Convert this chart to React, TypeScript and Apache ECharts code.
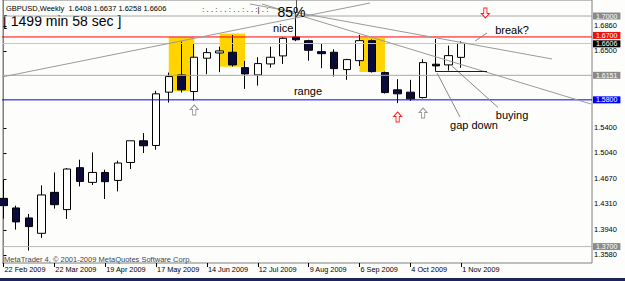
import React, { useEffect, useRef } from 'react';
import * as echarts from 'echarts';

const symbolName = 'GBPUSD';
const periodName = 'Weekly';

const weeks = [
  '22 Feb 2009', '1 Mar 2009', '8 Mar 2009', '15 Mar 2009', '22 Mar 2009', '29 Mar 2009',
  '5 Apr 2009', '12 Apr 2009', '19 Apr 2009', '26 Apr 2009', '3 May 2009', '10 May 2009',
  '17 May 2009', '24 May 2009', '31 May 2009', '7 Jun 2009', '14 Jun 2009', '21 Jun 2009',
  '28 Jun 2009', '5 Jul 2009', '12 Jul 2009', '19 Jul 2009', '26 Jul 2009', '2 Aug 2009',
  '9 Aug 2009', '16 Aug 2009', '23 Aug 2009', '30 Aug 2009', '6 Sep 2009', '13 Sep 2009',
  '20 Sep 2009', '27 Sep 2009', '4 Oct 2009', '11 Oct 2009', '18 Oct 2009', '25 Oct 2009',
  '1 Nov 2009',
];

const opens = [
  1.4390, 1.4253, 1.4110, 1.3890, 1.4476, 1.4229, 1.4829, 1.4619, 1.4761, 1.4647,
  1.4904, 1.5214, 1.5147, 1.5910, 1.6157, 1.5919, 1.6396, 1.6471, 1.6481, 1.6261,
  1.6157, 1.6314, 1.6429, 1.6698, 1.6647, 1.6490, 1.6481, 1.6233, 1.6361, 1.6647,
  1.6190, 1.5943, 1.5910, 1.5833, 1.6310, 1.6300, 1.6408,
];
const highs = [
  1.4657, 1.4286, 1.4167, 1.4576, 1.4761, 1.4824, 1.4943, 1.5047, 1.4800, 1.4929,
  1.5214, 1.5324, 1.5929, 1.6190, 1.6633, 1.6610, 1.6539, 1.6561, 1.6729, 1.6357,
  1.6410, 1.6561, 1.6695, 1.7043, 1.6660, 1.6610, 1.6524, 1.6386, 1.6729, 1.6667,
  1.6204, 1.6096, 1.6086, 1.6381, 1.6671, 1.6576, 1.6637,
];
const lows = [
  1.4100, 1.3943, 1.3643, 1.3824, 1.4243, 1.4096, 1.4561, 1.4581, 1.4381, 1.4490,
  1.4810, 1.5039, 1.5086, 1.5761, 1.5904, 1.5790, 1.6167, 1.6196, 1.6276, 1.5957,
  1.6004, 1.6261, 1.6314, 1.6640, 1.6361, 1.6253, 1.6133, 1.6086, 1.6286, 1.6190,
  1.5890, 1.5753, 1.5786, 1.5820, 1.6204, 1.6219, 1.6258,
];
const closes = [
  1.4286, 1.4053, 1.3986, 1.4439, 1.4300, 1.4810, 1.4633, 1.4761, 1.4629, 1.4896,
  1.5214, 1.5143, 1.5886, 1.6133, 1.5943, 1.6410, 1.6476, 1.6500, 1.6300, 1.6171,
  1.6319, 1.6410, 1.6681, 1.6660, 1.6510, 1.6461, 1.6247, 1.6376, 1.6647, 1.6204,
  1.5904, 1.5886, 1.5814, 1.6333, 1.6286, 1.6433, 1.6606,
];

const xTickIdx = [0, 4, 8, 12, 16, 20, 24, 28, 32, 36];
const yTickValues = [1.358, 1.394, 1.431, 1.467, 1.504, 1.54, 1.65, 1.686];

const levelPrices = [1.7, 1.6606, 1.67, 1.6151, 1.58, 1.37];
const levelLineColors = ['#a8a8a8', '#c8c8c8', '#ff0000', '#a8a8a8', '#0000ff', '#b8b8b8'];
const levelBoxColors = ['#8a8a8a', '#000000', '#ee1111', '#8a8a8a', '#0000ff', '#8a8a8a'];

// yellow zones: [fromWeek, toWeek, topPrice, bottomPrice]
const zones = [
  [13, 15, 1.6699, 1.5927],
  [17, 19, 1.6749, 1.6274],
  [28, 30, 1.6685, 1.6199],
];

const X_MIN = -0.118;
const X_MAX = 46.287;
const Y_MIN = 1.3465;
const Y_MAX = 1.7229;
const FONT = '"Liberation Sans", Arial, sans-serif';

export default function App() {
  const ref = useRef<HTMLDivElement>(null);
  useEffect(() => {
    document.body.style.margin = '0';
    if (!ref.current) return;
    const chart = echarts.init(ref.current, undefined, { renderer: 'svg' });
    const last = closes.length - 1;
    const header = `${symbolName},${periodName}  ${opens[last].toFixed(4)} ${highs[last].toFixed(4)} ${lows[last].toFixed(4)} ${closes[last].toFixed(4)}`;

    const candleData = weeks.map((_, i) => [i, opens[i], closes[i], lows[i], highs[i]]);

    const seg = (a: number[], b: number[], color: string, width = 1) => [
      { coord: a, lineStyle: { color, width, type: 'solid' }, label: { show: false } },
      { coord: b },
    ];

    const textMark = (text: string, x: number, y: number, size: number) => ({
      coord: [x, y],
      symbol: 'rect',
      symbolSize: 1,
      itemStyle: { color: 'rgba(0,0,0,0)' },
      label: { show: true, position: 'inside', formatter: text, color: '#000', fontSize: size, fontFamily: FONT },
    });
    const upArrow = 'path://M5,0 L10,5 L7,5 L7,11 L3,11 L3,5 L0,5 Z';
    const downArrow = 'path://M3,0 L7,0 L7,6 L10,6 L5,11 L0,6 L3,6 Z';
    const arrowMark = (path: string, x: number, y: number, stroke: string) => ({
      coord: [x, y],
      symbol: path,
      symbolSize: [8, 10],
      itemStyle: { color: '#ffffff', borderColor: stroke, borderWidth: 1 },
      label: { show: false },
    });

    const levelSeries = levelPrices.map((p, i) => ({
      type: 'line',
      z: 4,
      silent: true,
      showSymbol: false,
      symbol: 'none',
      clip: false,
      data: [[X_MIN, p], [X_MAX, p]],
      lineStyle: { color: levelLineColors[i], width: 1 },
      endLabel: {
        show: true,
        formatter: p.toFixed(4),
        backgroundColor: levelBoxColors[i],
        color: '#fff',
        fontSize: 7,
        lineHeight: 7,
        padding: [0, 3, 0, 3],
        distance: 1,
        fontFamily: FONT,
        offset: [0, i === 2 ? -1.5 : i === 1 ? 0.3 : 0],
      },
    }));

    const option: any = {
      animation: false,
      backgroundColor: '#fdfdfb',
      grid: {
        left: 2, top: 0, right: 33, bottom: 18, show: true,
        borderColor: '#808080', borderWidth: 1, backgroundColor: 'transparent',
      },
      xAxis: {
        type: 'value', min: X_MIN, max: X_MAX,
        splitLine: { show: false },
        axisLine: { show: false },
        axisTick: { show: true, customValues: xTickIdx, length: 4, lineStyle: { color: '#000' } },
        axisLabel: {
          customValues: xTickIdx,
          formatter: (v: number) => weeks[Math.round(v)] || '',
          align: 'left', margin: 3, fontSize: 7.3, color: '#000', fontFamily: FONT,
          padding: [0, 0, 0, 1],
        },
      },
      yAxis: {
        type: 'value', position: 'right', min: Y_MIN, max: Y_MAX,
        splitLine: { show: false },
        axisLine: { show: true, lineStyle: { color: '#808080' } },
        axisTick: { show: true, customValues: yTickValues, length: 3, lineStyle: { color: '#000' } },
        axisLabel: {
          customValues: yTickValues,
          formatter: (v: number) => v.toFixed(4),
          fontSize: 7.5, lineHeight: 7, color: '#000', margin: 2, fontFamily: FONT,
        },
      },
      series: [
        {
          type: 'line', data: [], z: 1, silent: true,
          markArea: {
            silent: true,
            itemStyle: { color: '#ffd400' },
            data: zones.map((z) => [{ xAxis: z[0], yAxis: z[2] }, { xAxis: z[1], yAxis: z[3] }]),
          },
        },
        {
          type: 'candlestick', z: 2,
          data: candleData,
          encode: { x: 0, y: [1, 2, 3, 4] },
          barWidth: 8,
          itemStyle: {
            color: '#ffffff', color0: '#0a0a3c',
            borderColor: '#000000', borderColor0: '#000000', borderWidth: 1,
          },
        },
        ...levelSeries,
        {
          type: 'line', data: [], z: 3, silent: true,
          markLine: {
            silent: true,
            symbol: ['none', 'none'],
            data: [
              seg([-0.118, 1.6127], [28.82, 1.7186], '#9a9a9a'),
              seg([19.39, 1.7172], [43.14, 1.6385], '#9a9a9a'),
              seg([20.33, 1.7172], [46.2, 1.5741], '#9a9a9a'),
              seg([23, 1.7043], [23, 1.7229], '#555555'),
              seg([34.1, 1.6184], [35.9, 1.5555], '#888888'),
              seg([35.3, 1.6280], [38.9, 1.5690], '#888888'),
              seg([37.1, 1.6642], [38.03, 1.6757], '#888888'),
              seg([34, 1.6213], [38.03, 1.6213], '#0000ff'),
            ],
          },
          markPoint: {
            silent: true,
            data: [
              textMark('nice', 22.0, 1.6828, 11),
              textMark('range', 23.95, 1.5927, 11),
              textMark('break?', 39.99, 1.6804, 11),
              textMark('gap down', 37.0, 1.5447, 11),
              textMark('buying', 40.0, 1.5576, 11),
              textMark('85%', 22.65, 1.7064, 14),
              arrowMark(upArrow, 15, 1.5655, '#999999'),
              arrowMark(upArrow, 31, 1.5555, '#ff2020'),
              arrowMark(upArrow, 33, 1.5612, '#999999'),
              arrowMark(downArrow, 37.9, 1.7043, '#ff2020'),
            ],
          },
        },
      ],
      graphic: [
        { type: 'text', left: 6, top: 4, silent: true, style: { text: header, fontSize: 7.5, fontFamily: FONT, fill: '#000' } },
        { type: 'text', left: 3, top: 14, silent: true, style: { text: '[ 1499 min 58 sec ]', fontSize: 14, fontFamily: FONT, fill: '#000' } },
        { type: 'text', left: 202, top: 5, silent: true, style: { text: ': . . : . . : . . : . . :| . :', fontSize: 8, fontFamily: FONT, fill: '#000' } },
        { type: 'text', left: 4, top: 255, silent: true, style: { text: 'MetaTrader 4, © 2001-2009 MetaQuotes Software Corp.', fontSize: 7.5, fontFamily: FONT, fill: '#444' } },
        { type: 'rect', left: 0, top: 278, silent: true, shape: { width: 625, height: 3 }, style: { fill: '#1b2656' } },
        { type: 'rect', left: 0, top: 0, silent: true, shape: { width: 2, height: 278 }, style: { fill: '#fdfdfb' } },
      ],
    };
    chart.setOption(option);
    return () => chart.dispose();
  }, []);
  return <div ref={ref} style={{ width: 625, height: 281 }} />;
}
